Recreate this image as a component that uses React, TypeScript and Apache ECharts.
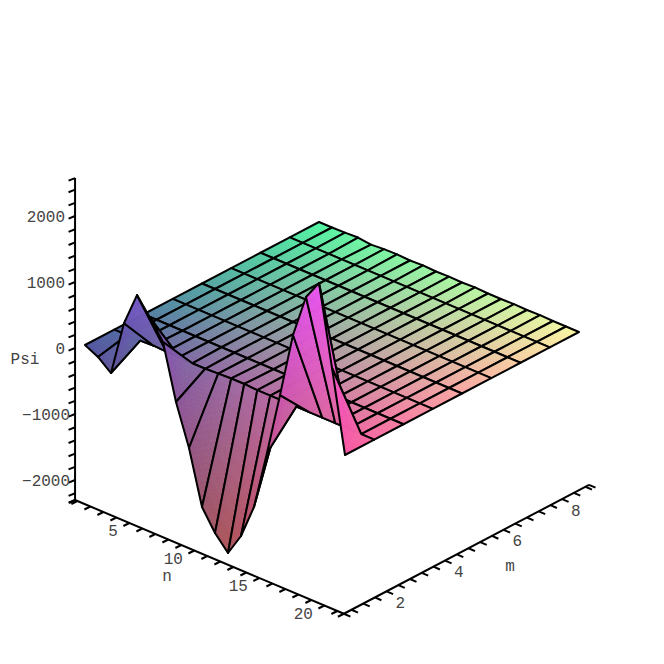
import React, { useEffect, useRef } from "react";
import * as echarts from "echarts";

// Psi(n, m) grid, one list per m value, one entry per n step
const psiM1 = [0, -98, -258, 580, 1090, 830, 545, -280, -894, -1705, -2015, -2235, -1894, -1371, -470, 490, 1485, 2144, 2440, 1235, 0];
const psiM2 = [0, 0, 0, 10, 0, 0, -10, -10, 0, 10, 10, 0, 0, 0, 0, 0, 0, 0, 0, 0, 0];
const psiM3 = [0, 0, 0, 0, 0, 0, 0, 0, 0, 0, 0, 0, 0, 0, 0, 0, 0, 0, 0, 0, 0];
const psiM4 = [0, 0, 0, 0, 0, 0, 0, 0, 0, 0, 0, 0, 0, 0, 0, 0, 0, 0, 0, 0, 0];
const psiM5 = [0, 0, 0, 0, 0, 0, 0, 0, 0, 0, 0, 0, 0, 0, 0, 0, 0, 0, 0, 0, 0];
const psiM6 = [0, 0, 0, 0, 0, 0, 0, 0, 0, 0, 0, 0, 0, 0, 0, 0, 0, 0, 0, 0, 0];
const psiM7 = [0, 0, 0, 0, 0, 0, 0, 0, 0, 0, 0, 0, 0, 0, 0, 0, 0, 0, 0, 0, 0];
const psiM8 = [0, 0, 0, 0, 0, 0, 0, 0, 0, 0, 0, 0, 0, 0, 0, 0, 0, 0, 0, 0, 0];
const psiM9 = [0, 0, 5, 15, -10, 5, 10, 0, 10, 0, 5, 0, 10, 0, 0, 5, 0, 5, 0, 0, 0];
const psi = [psiM1, psiM2, psiM3, psiM4, psiM5, psiM6, psiM7, psiM8, psiM9];

const nTicks = [1, 2, 3, 4, 5, 6, 7, 8, 9, 10, 11, 12, 13, 14, 15, 16, 17, 18, 19, 20, 21];
const nLabels = [5, 10, 15, 20];
const mTicks = [1, 1.4, 1.8, 2.2, 2.6, 3, 3.4, 3.8, 4.2, 4.6, 5, 5.4, 5.8, 6.2, 6.6, 7, 7.4, 7.8, 8.2, 8.6, 9];
const mLabels = [2, 4, 6, 8];
const zTicks = [-2200, -2000, -1800, -1600, -1400, -1200, -1000, -800, -600, -400, -200, 0, 200, 400, 600, 800, 1000, 1200, 1400, 1600, 1800, 2000, 2200, 2400];
const zLabels = [2000, 1000, 0, -1000, -2000];

const N_MIN = 0.82, N_MAX = 21.5, M_MIN = 0.74, M_MAX = 9.12, Z_MIN = -2303, Z_MAX = 2575;
const FONT = '16px "Liberation Mono", monospace';
const TEXT = "#444";

// oblique projection of (n, m, psi) onto the plot plane
const project = (n: number, m: number, z: number): number[] => [
  85 + 13 * (n - 1) + 29.25 * (m - 1),
  345 + 5.5 * (n - 1) - 15.375 * (m - 1) - 0.066 * z,
];

const shade = (n: number, m: number, z: number): string => {
  const r = 80 + 170 * ((n - 1) / 20);
  const g = 85 + 160 * ((m - 1) / 8);
  const b = Math.max(0, Math.min(255, 162 + 0.033 * z));
  return `rgb(${Math.round(r)},${Math.round(g)},${Math.round(b)})`;
};

type P = number[];
type V = number[]; // n, m, z

function App() {
  const ref = useRef<HTMLDivElement>(null);
  useEffect(() => {
    const chart = echarts.init(ref.current!, null, { renderer: "svg" });

    const cells: number[][] = [];
    for (let k = 7; k >= 0; k--) for (let j = 0; j < 20; j++) cells.push([j, k]);

    const renderCell = (_: any, api: any) => {
      const j = api.value(0), k = api.value(1);
      const sub = k === 0 ? 10 : 4;
      const v00: V = [j + 1, k + 1, psi[k][j]];
      const v10: V = [j + 2, k + 1, psi[k][j + 1]];
      const v01: V = [j + 1, k + 2, psi[k + 1][j]];
      const v11: V = [j + 2, k + 2, psi[k + 1][j + 1]];
      const scr = (v: V) => project(v[0], v[1], v[2]);
      const dist = (a: V, b: V) => Math.hypot(scr(a)[0] - scr(b)[0], scr(a)[1] - scr(b)[1]);
      // split the cell along its shorter on-screen diagonal
      const tris: V[][] = dist(v10, v01) < dist(v00, v11)
        ? [[v00, v10, v01], [v10, v11, v01]]
        : [[v00, v01, v11], [v00, v10, v11]];
      const depth = (t: V[]) => t.reduce((acc, v) => acc + v[0] - v[1] + v[2] / 1500, 0);
      tris.sort((a, b) => depth(a) - depth(b));

      const mix = (t: V[], u: number, w: number): V => {
        const x = 1 - u - w;
        return [0, 1, 2].map((i) => t[0][i] * x + t[1][i] * u + t[2][i] * w);
      };
      const children: any[] = [];
      const addTri = (a: V, b: V, c: V) => {
        const col = shade((a[0] + b[0] + c[0]) / 3, (a[1] + b[1] + c[1]) / 3, (a[2] + b[2] + c[2]) / 3);
        children.push({
          type: "polygon",
          shape: { points: [a, b, c].map((v) => api.coord(scr(v))) },
          style: { fill: col, stroke: col, lineWidth: 0.7 },
        });
      };
      tris.forEach((t) => {
        for (let a = 0; a < sub; a++) {
          for (let b = 0; b < sub - a; b++) {
            addTri(mix(t, a / sub, b / sub), mix(t, (a + 1) / sub, b / sub), mix(t, a / sub, (b + 1) / sub));
            if (a + b < sub - 1) {
              addTri(mix(t, (a + 1) / sub, b / sub), mix(t, (a + 1) / sub, (b + 1) / sub), mix(t, a / sub, (b + 1) / sub));
            }
          }
        }
      });
      const outline = [v00, v10, v11, v01].map((v) => api.coord(scr(v)));
      children.push({ type: "polygon", shape: { points: outline }, style: { fill: "none", stroke: "#000", lineWidth: 2, lineJoin: "round" } });
      return { type: "group", children };
    };

    const segs: number[][] = [];
    const addSeg = (a: P, b: P, w: number) => segs.push([a[0], a[1], b[0], b[1], w]);
    const O = project(N_MIN, M_MIN, Z_MIN);
    const X = project(N_MAX, M_MIN, Z_MIN);
    addSeg(project(N_MIN, M_MIN, Z_MAX), O, 2);
    addSeg(O, X, 2);
    addSeg(X, project(N_MAX, M_MAX, Z_MIN), 2);
    const tickOnZ: P = [-6.5, 2.6];
    const tickOnN: P = [-6, 3];
    const tickOnM: P = [6.5, 2.8];
    const addTick = (p: P, d: P) => addSeg(p, [p[0] + d[0], p[1] + d[1]], 2);
    [...zTicks, Z_MIN, Z_MAX].forEach((z) => addTick(project(N_MIN, M_MIN, z), tickOnZ));
    [...nTicks, N_MIN, N_MAX].forEach((n) => addTick(project(n, M_MIN, Z_MIN), tickOnN));
    [...mTicks, M_MIN, M_MAX].forEach((m) => addTick(project(N_MAX, m, Z_MIN), tickOnM));

    const labels: any[][] = [];
    zLabels.forEach((z) => {
      const p = project(N_MIN, M_MIN, z);
      labels.push([z < 0 ? p[0] - 5 : p[0] - 10, p[1] + 1.5, z < 0 ? `\u2212${-z}` : String(z), "right"]);
    });
    nLabels.forEach((n) => {
      const p = project(n, M_MIN, Z_MIN);
      labels.push([p[0] - 11.5, p[1] + 9.5, String(n), "right"]);
    });
    mLabels.forEach((m) => {
      const p = project(N_MAX, m, Z_MIN);
      labels.push([p[0] + 19.5, p[1] + 9.5, String(m), "center"]);
    });
    labels.push([25, 360, "Psi", "center"], [167, 577, "n", "center"], [510, 567, "m", "center"]);

    chart.setOption({
      animation: false,
      backgroundColor: "#fff",
      grid: { left: 0, right: 0, top: 0, bottom: 0 },
      xAxis: { type: "value", min: 0, max: 664, show: false },
      yAxis: { type: "value", min: 0, max: 664, inverse: true, show: false },
      series: [
        {
          type: "custom",
          silent: true,
          clip: false,
          data: segs,
          encode: { x: 0, y: 1 },
          renderItem: (_: any, api: any) => {
            const a = api.coord([api.value(0), api.value(1)]);
            const b = api.coord([api.value(2), api.value(3)]);
            return {
              type: "line",
              shape: { x1: a[0], y1: a[1], x2: b[0], y2: b[1] },
              style: { stroke: "#000", lineWidth: api.value(4) },
            };
          },
        },
        {
          type: "custom",
          silent: true,
          clip: false,
          data: cells,
          encode: { x: 0, y: 1 },
          renderItem: renderCell,
        },
        {
          type: "custom",
          silent: true,
          clip: false,
          data: labels,
          dimensions: ["x", "y", { name: "t", type: "ordinal" }, { name: "a", type: "ordinal" }],
          encode: { x: 0, y: 1 },
          renderItem: (params: any, api: any) => {
            const row = labels[params.dataIndex];
            const p = api.coord([row[0], row[1]]);
            return {
              type: "text",
              x: p[0],
              y: p[1],
              style: { text: row[2], font: FONT, fill: TEXT, textAlign: row[3], textVerticalAlign: "middle" },
            };
          },
        },
      ],
    });
    return () => chart.dispose();
  }, []);
  return <div ref={ref} style={{ position: "fixed", left: 0, top: 0, width: 664, height: 664 }} />;
}

export default App;
